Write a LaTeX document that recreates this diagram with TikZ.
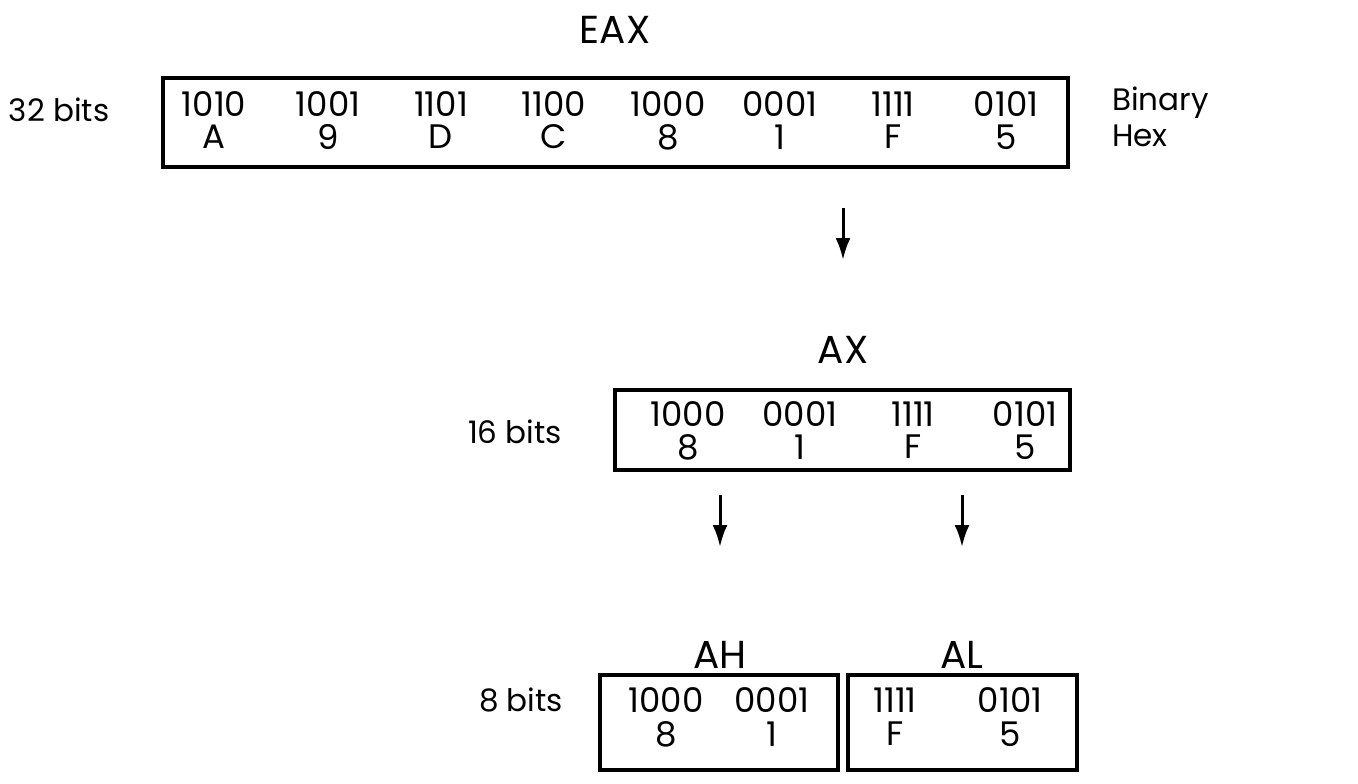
\documentclass[tikz,border=0pt]{standalone}
\usepackage{fontspec}
\setmainfont{Poppins}
\usetikzlibrary{arrows.meta}
\begin{document}
\begin{tikzpicture}[x=1pt,y=-1pt,
  reg/.style={draw,line width=4pt,inner sep=0pt},
  txt/.style={font=\fontsize{34}{36}\selectfont,inner sep=0pt,anchor=center},
  ttl/.style={font=\fontsize{39}{40}\selectfont,inner sep=0pt},
  lbl/.style={font=\fontsize{31}{32}\selectfont,inner sep=0pt},
  arr/.style={line width=3pt,-{Latex[length=22pt,width=15pt]}}]
\useasboundingbox (0,0) rectangle (1358,784);
% EAX
\node[ttl] (teax) at (615,30) {EAX};
\node[reg,minimum width=905pt,minimum height=89pt] (eax) at (615.5,122.5) {};
\foreach \b/\h/\x [count=\i] in {1010/A/214,1001/9/328,1101/D/441,1100/C/554,1000/8/668,0001/1/780,1111/F/893,0101/5/1006}{
  \node[txt] (eb\i) at (\x,104) {\b};
  \node[txt] (eh\i) at (\x,137) {\h};
}
\node[lbl] (l32) at (59,110) {32 bits};
\node[lbl,anchor=west] (lbin) at (1112,103) {Binary};
\node[lbl,anchor=west] (lhex) at (1112,136) {Hex};
% AX
\node[ttl] (tax) at (843,350) {AX};
\node[reg,minimum width=455pt,minimum height=80pt] (ax) at (842.5,430) {};
\foreach \b/\h/\x [count=\i] in {1000/8/688,0001/1/800,1111/F/913,0101/5/1025}{
  \node[txt] (ab\i) at (\x,414) {\b};
  \node[txt] (ah\i) at (\x,447) {\h};
}
\node[lbl] (l16) at (515,432) {16 bits};
% AH / AL
\node[ttl] (tah) at (720,655) {AH};
\node[ttl] (tal) at (962,655) {AL};
\node[reg,minimum width=238pt,minimum height=95pt] (ahb) at (719,722.5) {};
\node[reg,minimum width=229pt,minimum height=95pt] (alb) at (962.5,722.5) {};
\foreach \b/\h/\x [count=\i] in {1000/8/666,0001/1/772}{
  \node[txt] (hb\i) at (\x,700) {\b};
  \node[txt] (hh\i) at (\x,734) {\h};
}
\foreach \b/\h/\x [count=\i] in {1111/F/895,0101/5/1010}{
  \node[txt] (lb\i) at (\x,700) {\b};
  \node[txt] (lh\i) at (\x,734) {\h};
}
\node[lbl] (l8) at (521,700) {8 bits};
% arrows
\coordinate (a1s) at (843,208);
\coordinate (a1e) at (843,260);
\coordinate (a2s) at (720,495);
\coordinate (a2e) at (720,547);
\coordinate (a3s) at (962,495);
\coordinate (a3e) at (962,547);
\draw[arr] (a1s) -- (a1e);
\draw[arr] (a2s) -- (a2e);
\draw[arr] (a3s) -- (a3e);
\end{tikzpicture}
\end{document}
